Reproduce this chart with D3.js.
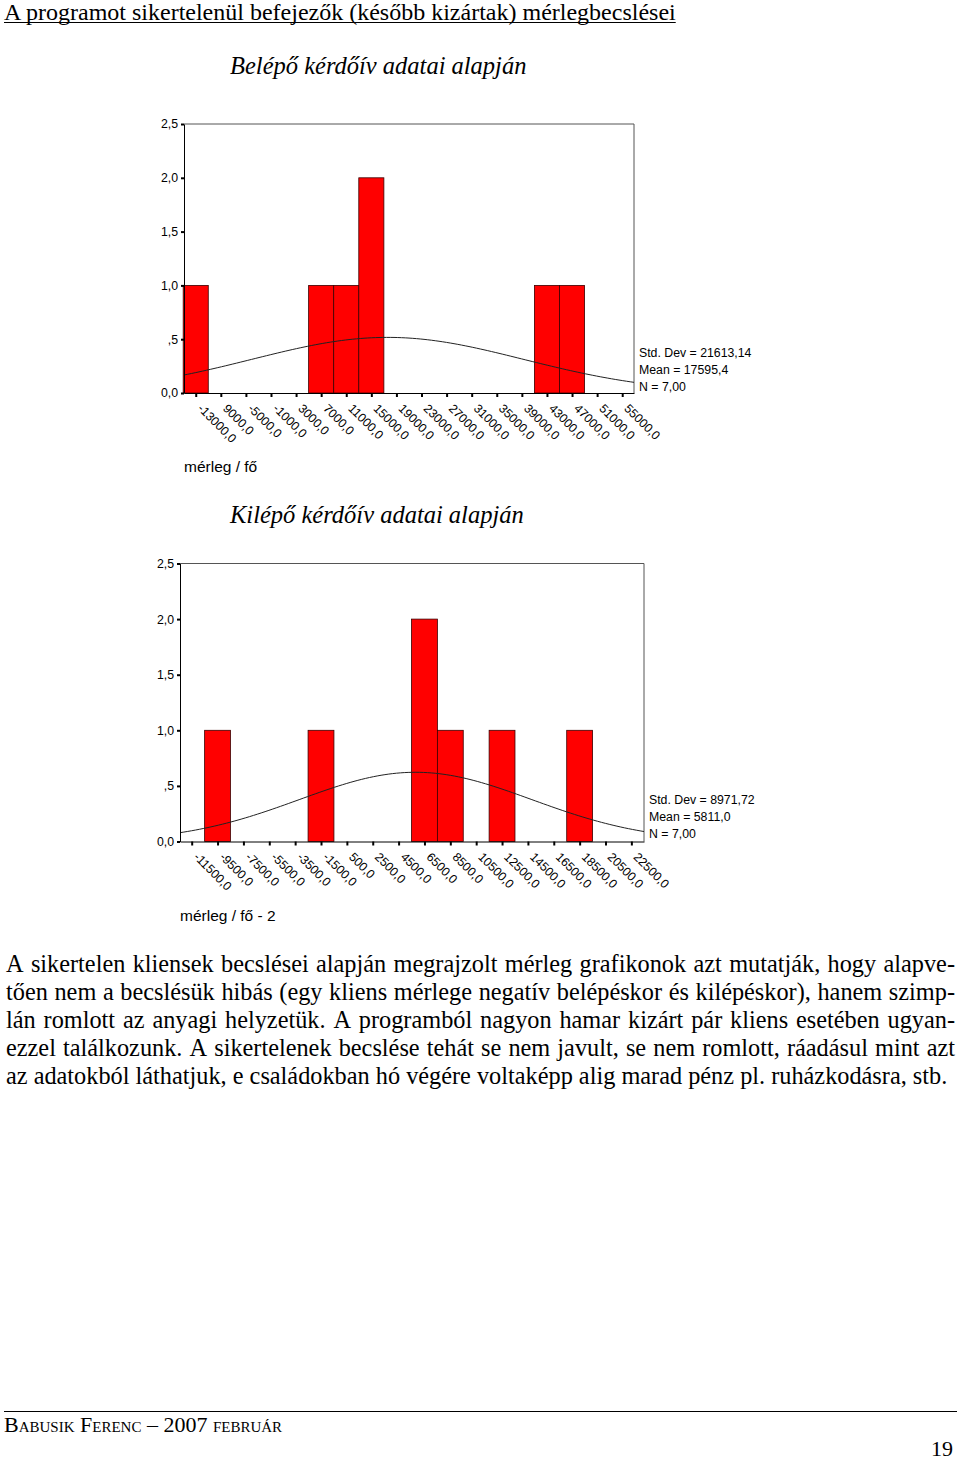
<!DOCTYPE html>
<html>
<head>
<meta charset="utf-8">
<script src="https://cdnjs.cloudflare.com/ajax/libs/d3/7.8.5/d3.min.js"></script>
<style>
  html, body { margin: 0; padding: 0; background: #fff; }
  svg { display: block; }
</style>
</head>
<body>
<svg id="page" width="960" height="1460"></svg>
<script>
// ---------------- DATA ----------------
const pageTitle = "A programot sikertelenül befejezők (később kizártak) mérlegbecslései";

// Chart 1: Belépő
const chart1Title = "Belépő kérdőív adatai alapján";
const chart1XLabel = "mérleg / fő";
const chart1BinCenters = [-13000, -9000, -5000, -1000, 3000, 7000, 11000, 15000, 19000, 23000, 27000, 31000, 35000, 39000, 43000, 47000, 51000, 55000];
const chart1TickLabels = ["-13000,0", "9000,0", "-5000,0", "-1000,0", "3000,0", "7000,0", "11000,0", "15000,0", "19000,0", "23000,0", "27000,0", "31000,0", "35000,0", "39000,0", "43000,0", "47000,0", "51000,0", "55000,0"];
const chart1Counts = [1, 0, 0, 0, 0, 1, 1, 2, 0, 0, 0, 0, 0, 0, 1, 1, 0, 0];
const chart1BinWidth = 4000;
const chart1StatsLabels = ["Std. Dev = 21613,14", "Mean = 17595,4", "N = 7,00"];
const chart1Mean = 17595.4;
const chart1Sd = 21613.14;
const chart1N = 7;

// Chart 2: Kilépő
const chart2Title = "Kilépő kérdőív adatai alapján";
const chart2XLabel = "mérleg / fő - 2";
const chart2BinCenters = [-11500, -9500, -7500, -5500, -3500, -1500, 500, 2500, 4500, 6500, 8500, 10500, 12500, 14500, 16500, 18500, 20500, 22500];
const chart2TickLabels = ["-11500,0", "-9500,0", "-7500,0", "-5500,0", "-3500,0", "-1500,0", "500,0", "2500,0", "4500,0", "6500,0", "8500,0", "10500,0", "12500,0", "14500,0", "16500,0", "18500,0", "20500,0", "22500,0"];
const chart2Counts = [0, 1, 0, 0, 0, 1, 0, 0, 0, 2, 1, 0, 1, 0, 0, 1, 0, 0];
const chart2BinWidth = 2000;
const chart2StatsLabels = ["Std. Dev = 8971,72", "Mean = 5811,0", "N = 7,00"];
const chart2Mean = 5811.0;
const chart2Sd = 8971.72;
const chart2N = 7;

const yTickValues = [0, 0.5, 1.0, 1.5, 2.0, 2.5];
const yTickLabels = ["0,0", ",5", "1,0", "1,5", "2,0", "2,5"];

const paragraphLines = [
  "A sikertelen kliensek becslései alapján megrajzolt mérleg grafikonok azt mutatják, hogy alapve-",
  "tően nem a becslésük hibás (egy kliens mérlege negatív belépéskor és kilépéskor), hanem szimp-",
  "lán romlott az anyagi helyzetük. A programból nagyon hamar kizárt pár kliens esetében ugyan-",
  "ezzel találkozunk. A sikertelenek becslése tehát se nem javult, se nem romlott, ráadásul mint azt",
  "az adatokból láthatjuk, e családokban hó végére voltaképp alig marad pénz pl. ruházkodásra, stb."
];
const footerAuthor = "Babusik Ferenc – 2007 február";
const pageNumber = "19";

// ---------------- DRAWING ----------------
const svg = d3.select("#page");
const SANS = "'Liberation Sans', Arial, sans-serif";
const SERIF = "'Liberation Serif', 'Times New Roman', serif";

// Page heading
const heading = svg.append("text")
  .attr("x", 4).attr("y", 20)
  .attr("font-family", SERIF).attr("font-size", 24)
  .attr("fill", "#000")
  .text(pageTitle);
const hw = heading.node().getComputedTextLength();
svg.append("line").attr("x1", 4).attr("x2", 4 + hw).attr("y1", 22.5).attr("y2", 22.5)
  .attr("stroke", "#000").attr("stroke-width", 1);

function drawChart(cfg) {
  const g = svg.append("g");
  const x = d3.scaleLinear().domain(cfg.xDomain).range([cfg.left, cfg.right]);
  const y = d3.scaleLinear().domain([0, 2.5]).range([cfg.bottom, cfg.top]);

  // Title
  g.append("text").attr("x", cfg.titleX).attr("y", cfg.titleY)
    .attr("font-family", SERIF).attr("font-style", "italic").attr("font-size", 24.5)
    .text(cfg.title);

  // frame (top & right)
  g.append("path")
    .attr("d", `M${cfg.left},${cfg.top}H${cfg.right}V${cfg.bottom}`)
    .attr("fill", "none").attr("stroke", "#555").attr("stroke-width", 1);

  // bars
  const bins = cfg.centers.map((c, i) => ({ c, n: cfg.counts[i] })).filter(d => d.n > 0);
  g.selectAll("rect.bar").data(bins).enter().append("rect")
    .attr("class", "bar")
    .attr("x", d => x(d.c - cfg.binWidth / 2))
    .attr("width", d => x(d.c + cfg.binWidth / 2) - x(d.c - cfg.binWidth / 2))
    .attr("y", d => y(d.n))
    .attr("height", d => y(0) - y(d.n))
    .attr("fill", "#ff0000").attr("stroke", "#3a0000").attr("stroke-width", 0.8);

  // normal curve from mean / sd / N
  const [x0, x1] = cfg.xDomain;
  const pts = d3.range(0, 121).map(i => {
    const v = x0 + (x1 - x0) * i / 120;
    const z = (v - cfg.mean) / cfg.sd;
    const dens = cfg.n * cfg.binWidth / (cfg.sd * Math.sqrt(2 * Math.PI)) * Math.exp(-0.5 * z * z);
    return [v, dens];
  });
  g.append("path")
    .attr("d", d3.line().x(d => x(d[0])).y(d => y(d[1]))(pts))
    .attr("fill", "none").attr("stroke", "#222").attr("stroke-width", 1);

  // y axis
  const yAxis = d3.axisLeft(y).tickValues(yTickValues)
    .tickFormat((d, i) => yTickLabels[i]).tickSize(3).tickSizeOuter(0).tickPadding(3);
  const ya = g.append("g").attr("transform", `translate(${cfg.left},0)`).call(yAxis);
  ya.select(".domain").attr("stroke", "#000");
  ya.selectAll(".tick line").attr("stroke", "#000").attr("stroke-width", 2);
  ya.selectAll("text").attr("font-family", SANS).attr("font-size", 12.3).attr("fill", "#000");

  // x axis
  const xAxis = d3.axisBottom(x).tickValues(cfg.centers)
    .tickFormat((d, i) => cfg.tickLabels[i]).tickSize(4).tickSizeOuter(0);
  const xa = g.append("g").attr("transform", `translate(0,${cfg.bottom})`).call(xAxis);
  xa.select(".domain").attr("stroke", "#000");
  xa.selectAll(".tick line").attr("stroke", "#000").attr("stroke-width", 2);
  xa.selectAll("text")
    .attr("font-family", SANS).attr("font-size", 12.3).attr("fill", "#000")
    .attr("text-anchor", "start")
    .attr("y", 0).attr("dy", "0.71em")
    .attr("transform", "translate(7,10) rotate(45)");

  // stats
  g.selectAll("text.stat").data(cfg.stats).enter().append("text")
    .attr("class", "stat")
    .attr("x", cfg.right + 5)
    .attr("y", (d, i) => cfg.statsY + i * 17)
    .attr("font-family", SANS).attr("font-size", 12.3)
    .text(d => d);

  // axis title
  g.append("text").attr("x", cfg.xLabelX).attr("y", cfg.xLabelY)
    .attr("font-family", SANS).attr("font-size", 15.5)
    .text(cfg.xLabel);
}

drawChart({
  title: chart1Title, titleX: 230, titleY: 74,
  xDomain: [-14870, 56880], left: 184, right: 634, top: 124, bottom: 393,
  centers: chart1BinCenters, tickLabels: chart1TickLabels, counts: chart1Counts,
  binWidth: chart1BinWidth, mean: chart1Mean, sd: chart1Sd, n: chart1N,
  stats: chart1StatsLabels, statsY: 357,
  xLabel: chart1XLabel, xLabelX: 184, xLabelY: 472
});

drawChart({
  title: chart2Title, titleX: 230, titleY: 523,
  xDomain: [-12404, 23477], left: 180, right: 644, top: 563.5, bottom: 841.5,
  centers: chart2BinCenters, tickLabels: chart2TickLabels, counts: chart2Counts,
  binWidth: chart2BinWidth, mean: chart2Mean, sd: chart2Sd, n: chart2N,
  stats: chart2StatsLabels, statsY: 804,
  xLabel: chart2XLabel, xLabelX: 180, xLabelY: 921
});

// Paragraph (justified)
const PARA_FS = 24.3;
const paraLeft = 6, paraRight = 955;
const measurer = svg.append("text").attr("font-family", SERIF).attr("font-size", PARA_FS).attr("visibility", "hidden");
function wlen(s) { measurer.text(s); return measurer.node().getComputedTextLength(); }
const spaceW = wlen("a a") - wlen("aa");
paragraphLines.forEach((line, li) => {
  const yb = 972 + li * 28;
  const words = line.split(" ");
  const widths = words.map(wlen);
  const total = d3.sum(widths);
  const justify = li < paragraphLines.length - 1;
  const gap = justify ? (paraRight - paraLeft - total) / (words.length - 1) : spaceW;
  let cx = paraLeft;
  const t = svg.append("text").attr("y", yb).attr("font-family", SERIF).attr("font-size", PARA_FS).attr("fill", "#000");
  words.forEach((w, i) => {
    t.append("tspan").attr("x", cx).text(w);
    cx += widths[i] + gap;
  });
});
measurer.remove();

// Footer
svg.append("line").attr("x1", 4).attr("x2", 957).attr("y1", 1411.5).attr("y2", 1411.5)
  .attr("stroke", "#000").attr("stroke-width", 1);
svg.append("text").attr("x", 4).attr("y", 1432)
  .attr("font-family", SERIF).attr("font-size", 22).attr("font-variant", "small-caps")
  .text(footerAuthor);
svg.append("text").attr("x", 953).attr("y", 1456).attr("text-anchor", "end")
  .attr("font-family", SERIF).attr("font-size", 22)
  .text(pageNumber);
</script>
</body>
</html>
